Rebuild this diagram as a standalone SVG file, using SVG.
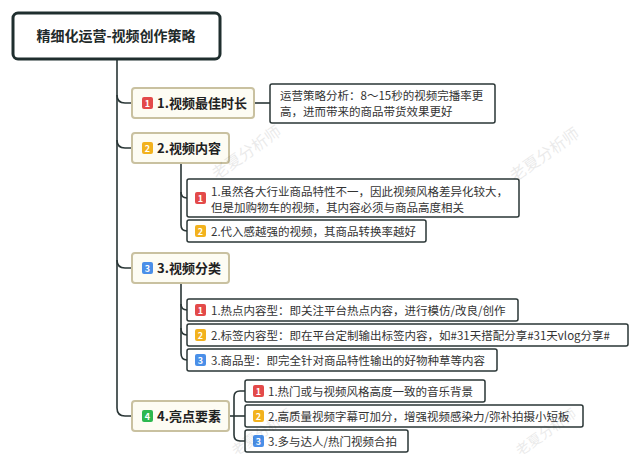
<svg xmlns="http://www.w3.org/2000/svg" width="640" height="464" viewBox="0 0 640 464">
<defs>
<style>
.t{font-family:"Noto Sans CJK SC","Liberation Sans",sans-serif;}
.root{fill:#fff;stroke:#1f2e2e;stroke-width:3;}
.roottxt{font-size:14px;font-weight:bold;fill:#1f2a2a;}
.l1{fill:#fdfcf3;stroke:#c9c1a0;stroke-width:2;}
.l1txt{font-size:13px;font-weight:bold;fill:#1f2222;}
.leaf{fill:#fff;stroke:#2a3636;stroke-width:1.5;}
.leaftxt{font-size:11.5px;fill:#333;}
.wm{font-size:16px;fill:#000;opacity:0.08;}
.wms{font-size:14px;fill:#000;opacity:0.08;}
.conn{fill:none;stroke:#2a3636;stroke-width:1.6;}
.b1{fill:#e34a4a;}
.b2{fill:#f2b21e;}
.b3{fill:#4a8fe8;}
.b4{fill:#2db84f;}
.bn{font-size:9px;font-weight:bold;fill:#fff;text-anchor:middle;}
</style>
</defs>
<rect width="640" height="464" fill="#fff"/>
<g id="connectors">
<path class="conn" d="M117,59 V408 Q117,416 125,416 H132"/>
<path class="conn" d="M117,95 Q117,103 125,103 H132"/>
<path class="conn" d="M117,140 Q117,148 125,148 H132"/>
<path class="conn" d="M117,260 Q117,268 125,268 H132"/>
<path class="conn" d="M254,103 H270"/>
<path class="conn" d="M181,163 V225 Q181,231 187,231"/>
<path class="conn" d="M181,192 Q181,198 187,198"/>
<path class="conn" d="M181,283 V353 Q181,360 187,360"/>
<path class="conn" d="M181,304 Q181,310 187,310"/>
<path class="conn" d="M181,328 Q181,335 187,335"/>
<path class="conn" d="M229,416 H245"/>
<path class="conn" d="M245,391 H240 Q234,391 234,397 V435 Q234,441 240,441 H245"/>
</g>
<g id="root" class="t">
<rect class="root" x="13" y="13" width="207" height="46" rx="5"/>
<text class="roottxt" x="116" y="41" text-anchor="middle">精细化运营-视频创作策略</text>
</g>
<g id="n1" class="t">
<rect class="l1" x="132" y="88" width="122" height="30" rx="3"/>
<rect class="b1" x="142" y="97" width="11" height="12" rx="2"/>
<text class="bn" x="147.5" y="106.5">1</text>
<text class="l1txt" x="157" y="108">1.视频最佳时长</text>
</g>
<g id="n1d" class="t">
<rect class="leaf" x="270" y="84" width="225" height="39" rx="2"/>
<text class="leaftxt" x="280" y="100">运营策略分析：8～15秒的视频完播率更</text>
<text class="leaftxt" x="280" y="115.5">高，进而带来的商品带货效果更好</text>
</g>
<g id="n2" class="t">
<rect class="l1" x="132" y="133" width="97" height="30" rx="3"/>
<rect class="b2" x="142" y="142" width="11" height="12" rx="2"/>
<text class="bn" x="147.5" y="151.5">2</text>
<text class="l1txt" x="157" y="153">2.视频内容</text>
</g>
<g id="n2a" class="t">
<rect class="leaf" x="187" y="179" width="332" height="38" rx="2"/>
<rect class="b1" x="195" y="192" width="11" height="12" rx="2"/>
<text class="bn" x="200.5" y="201.5">1</text>
<text class="leaftxt" x="211" y="196">1.虽然各大行业商品特性不一，因此视频风格差异化较大，</text>
<text class="leaftxt" x="211" y="212">但是加购物车的视频，其内容必须与商品高度相关</text>
</g>
<g id="n2b" class="t">
<rect class="leaf" x="187" y="220" width="239" height="22" rx="2"/>
<rect class="b2" x="195" y="225" width="11" height="12" rx="2"/>
<text class="bn" x="200.5" y="234.5">2</text>
<text class="leaftxt" x="211" y="235.5">2.代入感越强的视频，其商品转换率越好</text>
</g>
<g id="n3" class="t">
<rect class="l1" x="132" y="253" width="97" height="30" rx="3"/>
<rect class="b3" x="142" y="262" width="11" height="12" rx="2"/>
<text class="bn" x="147.5" y="271.5">3</text>
<text class="l1txt" x="157" y="273">3.视频分类</text>
</g>
<g id="n3a" class="t">
<rect class="leaf" x="187" y="299" width="331" height="22" rx="2"/>
<rect class="b1" x="195" y="304" width="11" height="12" rx="2"/>
<text class="bn" x="200.5" y="313.5">1</text>
<text class="leaftxt" x="211" y="314.5">1.热点内容型：即关注平台热点内容，进行模仿/改良/创作</text>
</g>
<g id="n3b" class="t">
<rect class="leaf" x="187" y="324" width="441" height="22" rx="2"/>
<rect class="b2" x="195" y="329" width="11" height="12" rx="2"/>
<text class="bn" x="200.5" y="338.5">2</text>
<text class="leaftxt" x="211" y="339.5">2.标签内容型：即在平台定制输出标签内容，如#31天搭配分享#31天vlog分享#</text>
</g>
<g id="n3c" class="t">
<rect class="leaf" x="187" y="349" width="310" height="22" rx="2"/>
<rect class="b3" x="195" y="354" width="11" height="12" rx="2"/>
<text class="bn" x="200.5" y="363.5">3</text>
<text class="leaftxt" x="211" y="364.5">3.商品型：即完全针对商品特性输出的好物种草等内容</text>
</g>
<g id="n4" class="t">
<rect class="l1" x="132" y="401" width="97" height="30" rx="3"/>
<rect class="b4" x="142" y="410" width="11" height="12" rx="2"/>
<text class="bn" x="147.5" y="419.5">4</text>
<text class="l1txt" x="157" y="421">4.亮点要素</text>
</g>
<g id="n4a" class="t">
<rect class="leaf" x="245" y="380" width="240" height="22" rx="2"/>
<rect class="b1" x="253" y="385" width="11" height="12" rx="2"/>
<text class="bn" x="258.5" y="394.5">1</text>
<text class="leaftxt" x="268" y="395.5">1.热门或与视频风格高度一致的音乐背景</text>
</g>
<g id="n4b" class="t">
<rect class="leaf" x="245" y="405" width="338" height="22" rx="2"/>
<rect class="b2" x="253" y="410" width="11" height="12" rx="2"/>
<text class="bn" x="258.5" y="419.5">2</text>
<text class="leaftxt" x="268" y="420.5">2.高质量视频字幕可加分，增强视频感染力/弥补拍摄小短板</text>
</g>
<g id="n4c" class="t">
<rect class="leaf" x="245" y="430" width="163" height="22" rx="2"/>
<rect class="b3" x="253" y="435" width="11" height="12" rx="2"/>
<text class="bn" x="258.5" y="444.5">3</text>
<text class="leaftxt" x="268" y="445.5">3.多与达人/热门视频合拍</text>
</g>
<g id="watermarks" class="t">
<text class="wm" x="247" y="158" text-anchor="middle" transform="rotate(-35 247 153)">老夏分析师</text>
<text class="wm" x="545" y="160" text-anchor="middle" transform="rotate(-35 545 155)">老夏分析师</text>
<text class="wms" x="262" y="437" text-anchor="middle" transform="rotate(-35 262 432)">老夏分析师</text>
<text class="wms" x="546" y="437" text-anchor="middle" transform="rotate(-35 546 432)">老夏分析师</text>
</g>
</svg>
